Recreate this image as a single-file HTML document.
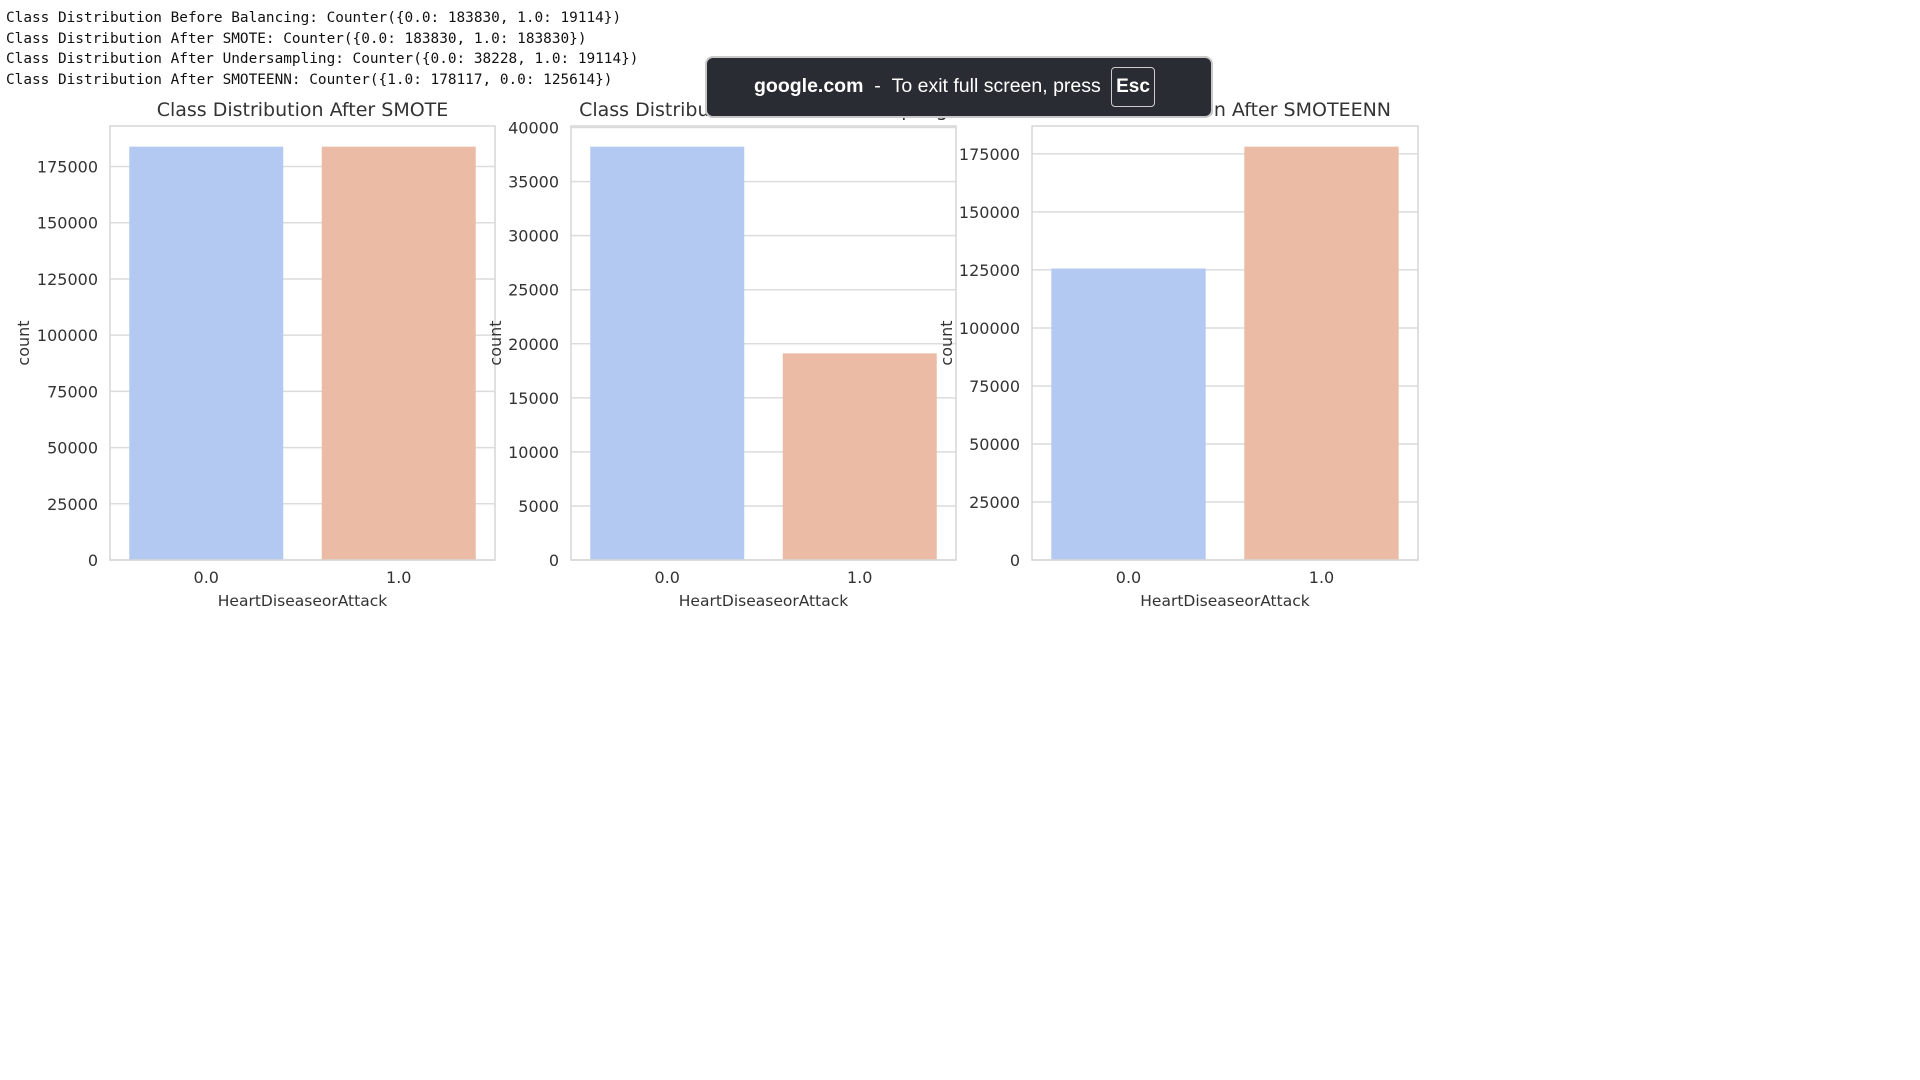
<!DOCTYPE html>
<html><head><meta charset="utf-8">
<style>
body{margin:0;width:1920px;height:1080px;background:#fff;overflow:hidden;position:relative;font-family:"DejaVu Sans","Liberation Sans",sans-serif;}
.log{position:absolute;left:6px;font-family:"DejaVu Sans Mono","Liberation Mono",monospace;font-size:14.4px;color:#111;white-space:pre;}
#overlay{position:absolute;left:705px;top:56px;width:504px;height:58px;background:#292c33;border:2px solid #c8c8c8;border-radius:8px;color:#fff;font-family:"Liberation Sans","DejaVu Sans",sans-serif;}
</style></head><body>
<div class="log" style="top:10px">Class Distribution Before Balancing: Counter({0.0: 183830, 1.0: 19114})</div>
<div class="log" style="top:30.5px">Class Distribution After SMOTE: Counter({0.0: 183830, 1.0: 183830})</div>
<div class="log" style="top:51px">Class Distribution After Undersampling: Counter({0.0: 38228, 1.0: 19114})</div>
<div class="log" style="top:71.5px">Class Distribution After SMOTEENN: Counter({1.0: 178117, 0.0: 125614})</div>
<svg id="charts" width="1920" height="1080" style="position:absolute;left:0;top:0"></svg>
<div id="overlay">
<span style="position:absolute;left:47px;top:17px;font-size:19.5px;white-space:nowrap"><b>google.com</b>&nbsp; - &nbsp;To exit full screen, press</span>
<span style="position:absolute;left:404px;top:9px;width:42px;height:38px;border:1px solid #ccc;border-radius:4px;font-weight:bold;font-size:19px;text-align:center;line-height:38px">Esc</span>
</div>
<script>
const categories=["0.0","1.0"];
const titles=["Class Distribution After SMOTE","Class Distribution After Undersampling","Class Distribution After SMOTEENN"];
const smoteValues=[183830,183830];
const underValues=[38228,19114];
const smoteennValues=[125614,178117];
const smoteTicks=[0,25000,50000,75000,100000,125000,150000,175000];
const underTicks=[0,5000,10000,15000,20000,25000,30000,35000,40000];
const smoteennTicks=[0,25000,50000,75000,100000,125000,150000,175000];
const colors=["#b4c9f2","#ebbba5"];
const NS="http://www.w3.org/2000/svg";
const svg=document.getElementById('charts');
function mk(tag,attrs,parent){const e=document.createElementNS(NS,tag);for(const k in attrs)e.setAttribute(k,attrs[k]);(parent||svg).appendChild(e);return e;}
const panels=[{x0:110,x1:495,vals:smoteValues,ticks:smoteTicks,ylx:24},{x0:571,x1:956,vals:underValues,ticks:underTicks,ylx:496},{x0:1032,x1:1418,vals:smoteennValues,ticks:smoteennTicks,ylx:947}];
const y0=560,y1=126;
panels.forEach((p,i)=>{
  const g=mk('g',{});
  
  
  const ymax=Math.max(...p.vals)*1.05;
  const ys=v=>y0-(v/ymax)*(y0-y1);
  const bw=(p.x1-p.x0)/categories.length;
  const xs=k=>p.x0+bw*(k+0.5);
  p.ticks.forEach(t=>{
    if(ys(t)<y1-1)return;
    const l=mk('line',{x1:p.x0,x2:p.x1,y1:ys(t),y2:ys(t),stroke:'#dcdcdc','stroke-width':1.5},g);
    
    
    const tx=mk('text',{x:p.x0-12,y:ys(t)+6,'text-anchor':'end','font-size':16,fill:'#333'},g);
    tx.textContent=t;
    
    
  });
  p.vals.forEach((v,k)=>{
    const r=mk('rect',{x:xs(k)-bw*0.4,width:bw*0.8,y:ys(v),height:y0-ys(v),fill:colors[k]},g);
    
    
    const tl=mk('text',{x:xs(k),y:583,'text-anchor':'middle','font-size':16,fill:'#333'},g);
    tl.textContent=categories[k];
    
    
  });
  const b=mk('rect',{x:p.x0,y:y1,width:p.x1-p.x0,height:y0-y1,fill:'none',stroke:'#d6d6d6','stroke-width':1.5},g);
  
  
  const t=mk('text',{x:(p.x0+p.x1)/2,y:116,'text-anchor':'middle','font-size':19,fill:'#333'},g);
  t.textContent=titles[i];
  
  
  const xl=mk('text',{x:(p.x0+p.x1)/2,y:606,'text-anchor':'middle','font-size':15.5,fill:'#333'},g);
  xl.textContent='HeartDiseaseorAttack';
  
  
  const yl=mk('text',{x:p.ylx+5,y:(y0+y1)/2,'text-anchor':'middle','font-size':16,fill:'#333',transform:`rotate(-90 ${p.ylx+5} ${(y0+y1)/2})`},g);
  yl.textContent='count';
  
  
});
</script>
</body></html>
